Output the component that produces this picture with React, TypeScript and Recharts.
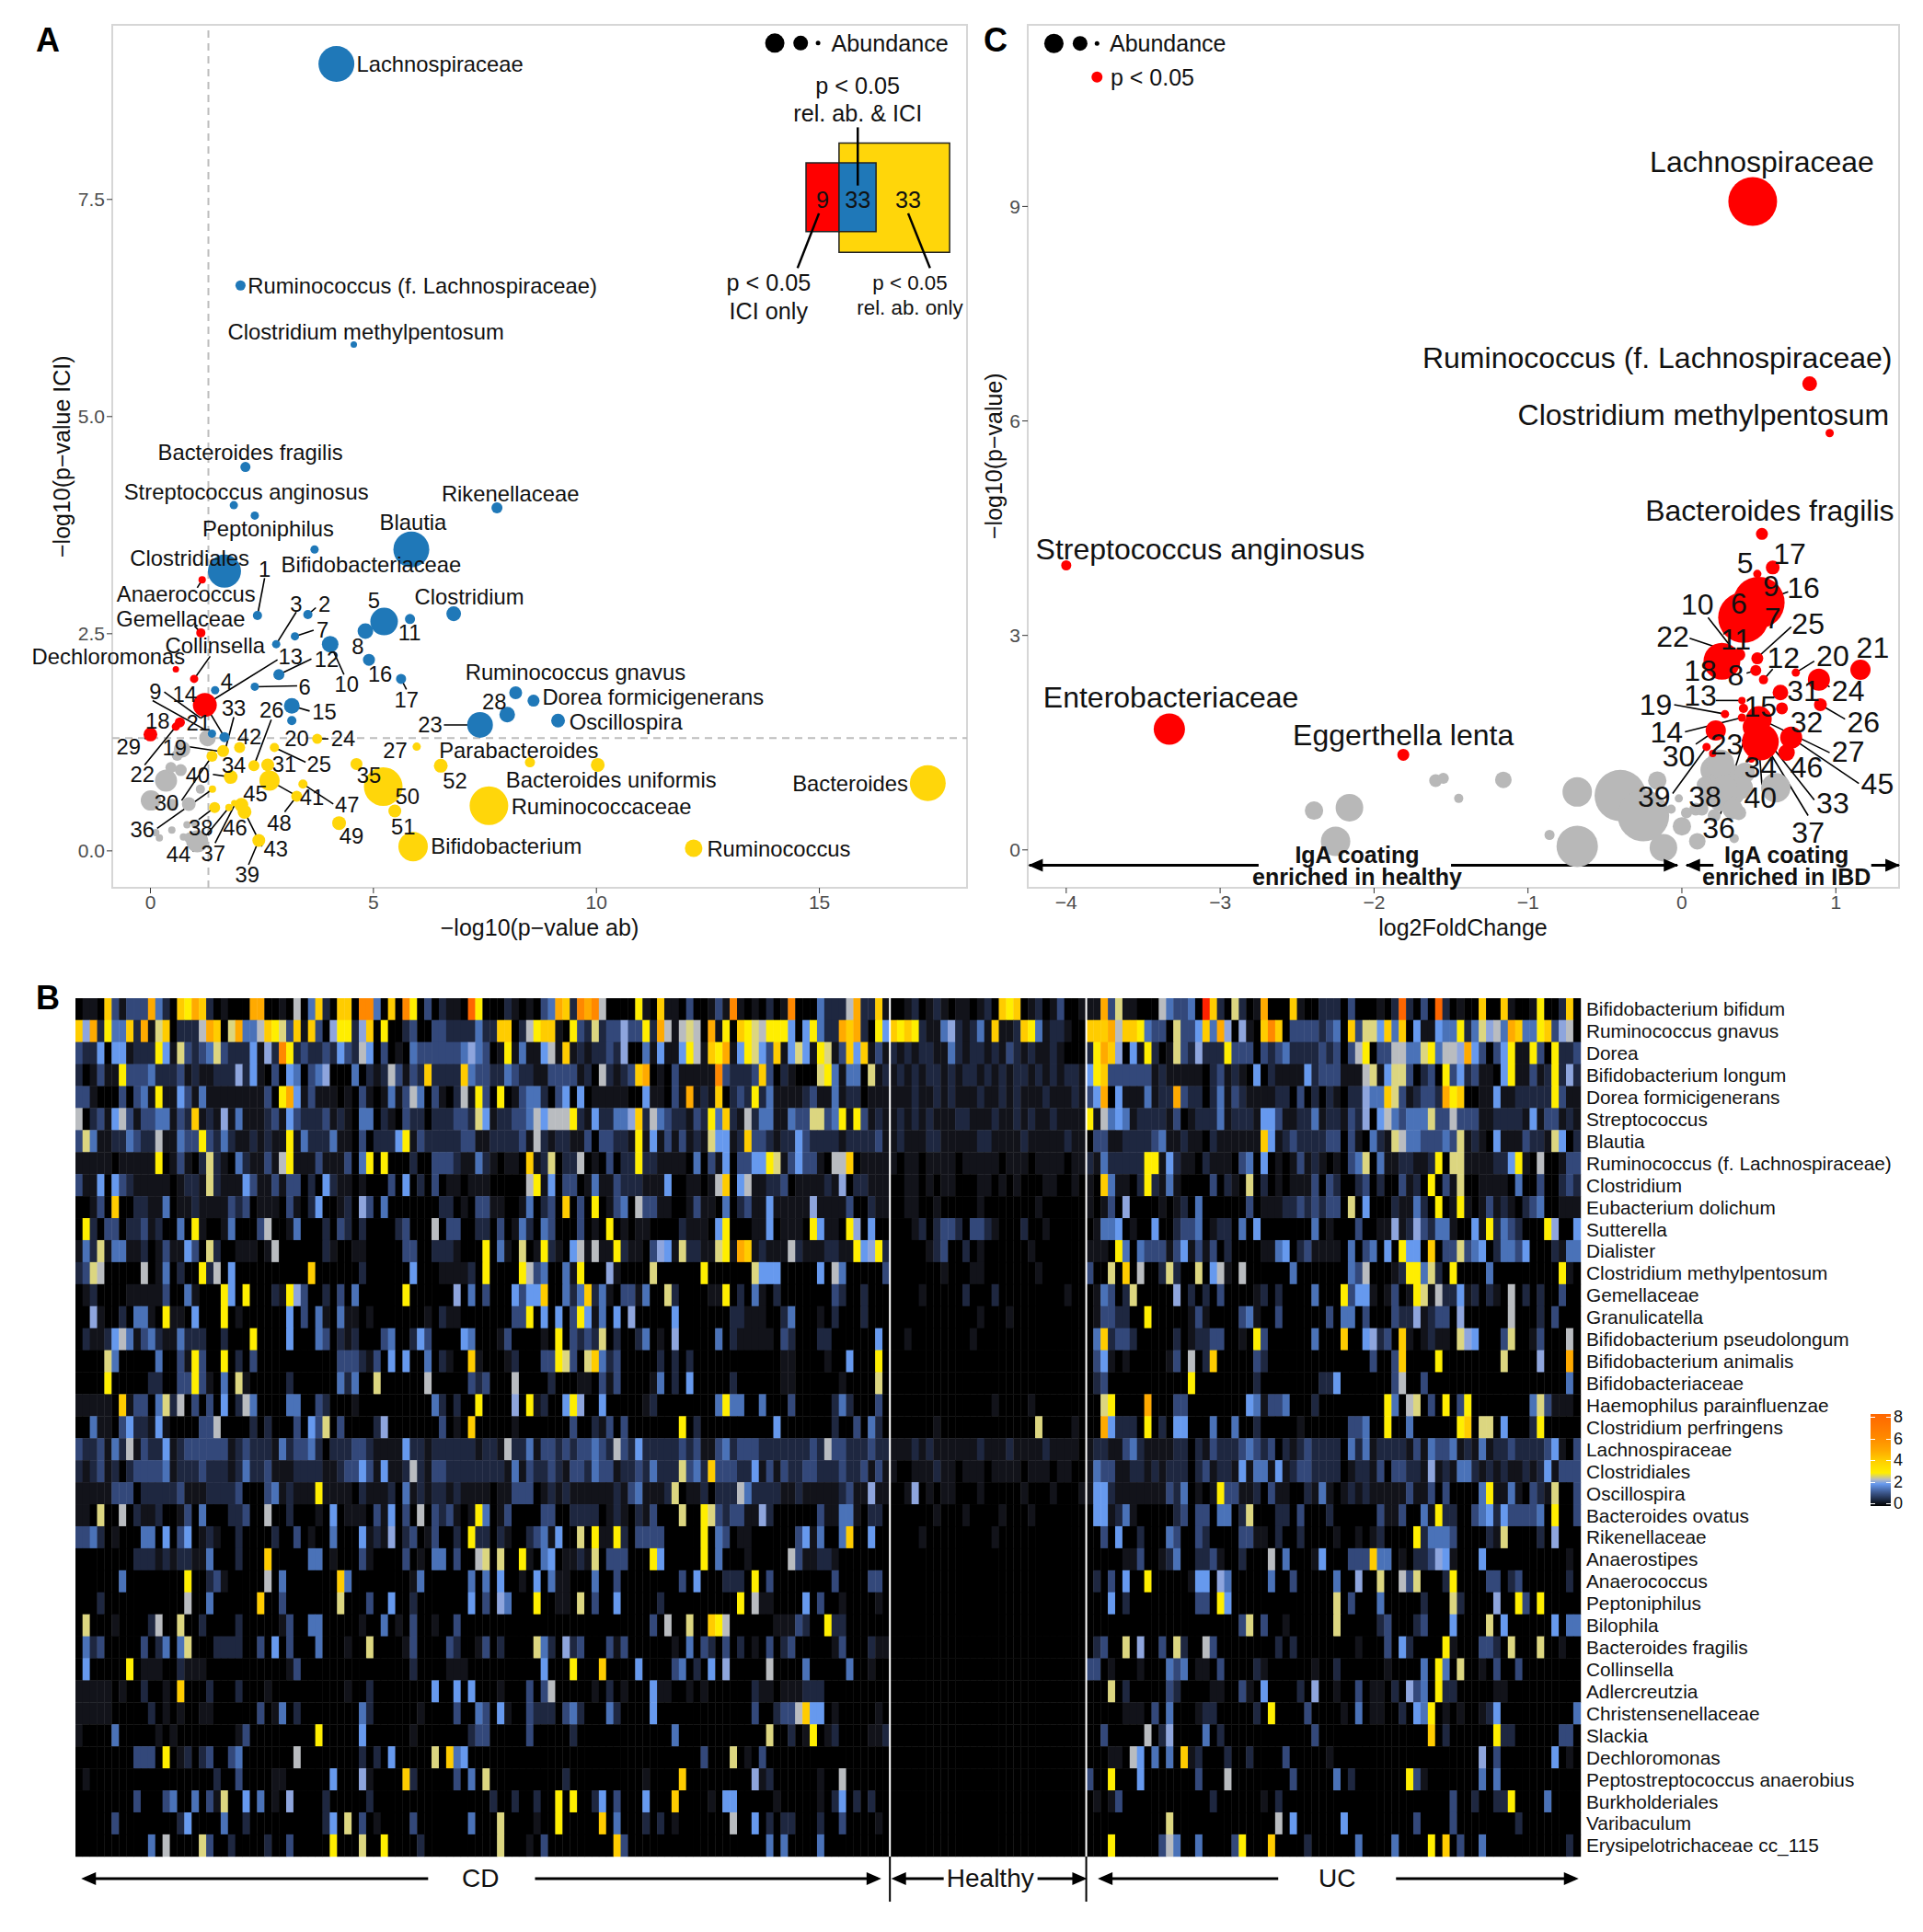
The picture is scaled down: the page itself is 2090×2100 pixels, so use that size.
import React from 'react';
import { ScatterChart, Scatter, XAxis, YAxis, ZAxis, ReferenceLine, ReferenceDot, ReferenceArea } from 'recharts';

type Pt = [number, number, number];
type Lbl = [string, number, number];
type Seg = [number, number, number, number];

const FONT = '"Liberation Sans", Arial, sans-serif';
const RED = '#ff0000';
const BLUE = '#1f78b8';
const YELLOW = '#ffd60a';
const GRAY = '#b8b8b8';

// panel A: [-log10 p ab, -log10 p ICI, abundance]
const blueA: Pt[] = [
  [4.17, 9.06, 39], [2.02, 6.51, 11], [4.56, 5.83, 7], [2.13, 4.42, 11], [1.87, 3.98, 9], [2.34, 3.86, 9],
  [3.68, 3.47, 9], [7.77, 3.95, 12], [5.85, 3.47, 39], [1.66, 3.22, 36], [2.4, 2.71, 10], [3.53, 2.72, 10],
  [2.82, 2.38, 9], [3.24, 2.47, 9], [5.24, 2.64, 30], [4.82, 2.53, 17], [5.82, 2.67, 11], [6.8, 2.73, 16],
  [4.03, 2.38, 18], [4.9, 2.2, 13], [2.88, 2.03, 12], [2.34, 1.89, 9], [1.45, 1.85, 9], [5.62, 1.98, 11],
  [3.17, 1.67, 17], [3.17, 1.5, 10], [7.39, 1.45, 28], [8.0, 1.57, 17], [8.19, 1.82, 14], [8.59, 1.73, 13],
  [9.14, 1.5, 15], [1.38, 1.35, 9], [1.66, 1.31, 11],
];
const redA: Pt[] = [
  [1.16, 3.12, 8], [0, 1.34, 15], [0.66, 1.48, 11], [0.57, 1.43, 9], [0.57, 2.09, 7], [0.98, 1.98, 9],
  [1.13, 2.51, 10], [1.22, 1.68, 26],
];
const yellowA: Pt[] = [
  [3.74, 1.29, 11], [5.97, 1.2, 9], [2.0, 1.19, 12], [2.78, 1.19, 10], [1.63, 1.15, 13], [1.38, 1.09, 12],
  [2.32, 0.98, 12], [2.63, 0.99, 14], [2.67, 0.81, 22], [1.8, 0.85, 15], [1.39, 0.71, 8], [3.42, 0.77, 10],
  [3.28, 0.63, 12], [4.62, 1.0, 13], [6.51, 0.98, 15], [5.22, 0.74, 42], [5.48, 0.46, 14], [4.23, 0.32, 15],
  [5.89, 0.05, 32], [7.59, 0.52, 42], [2.04, 0.53, 15], [2.11, 0.45, 15], [1.76, 0.5, 8], [1.88, 0.55, 7],
  [1.44, 0.5, 12], [2.43, 0.12, 14], [8.51, 1.02, 11], [10.03, 0.99, 15], [17.43, 0.78, 39], [12.18, 0.03, 19],
];
const grayA: Pt[] = [
  [1.28, 1.3, 18], [0.71, 1.17, 18], [0.6, 1.1, 12], [0.35, 0.81, 24], [0.68, 0.93, 13], [0.46, 0.96, 12],
  [0.01, 0.58, 22], [0.86, 0.54, 15], [0.49, 0.53, 13], [1.12, 0.71, 10], [0.48, 0.24, 8], [0.82, 0.3, 8],
  [0.2, 0.15, 8], [0.12, 0.21, 8], [0.74, 0.16, 8], [1.05, 0.11, 24], [0.88, 0.15, 12], [1.0, 0.3, 8],
];
const legendA: Pt[] = [[14.0, 9.3, 21], [14.58, 9.3, 16], [14.97, 9.3, 5]];

const labelsA: Lbl[] = [
  ['Lachnospiraceae', 6.49, 9.06], ['Ruminococcus (f. Lachnospiraceae)', 6.1, 6.51], ['Clostridium methylpentosum', 4.83, 5.98],
  ['Bacteroides fragilis', 2.24, 4.59], ['Streptococcus anginosus', 2.15, 4.14], ['Rikenellaceae', 8.07, 4.11],
  ['Peptoniphilus', 2.64, 3.71], ['Blautia', 5.89, 3.79], ['Clostridiales', 0.88, 3.37], ['Bifidobacteriaceae', 4.95, 3.3],
  ['Anaerococcus', 0.8, 2.96], ['Clostridium', 7.15, 2.93], ['Gemellaceae', 0.68, 2.67], ['Collinsella', 1.45, 2.37],
  ['Dechloromonas', -0.94, 2.24], ['Ruminococcus gnavus', 9.53, 2.06], ['Dorea formicigenerans', 11.27, 1.77],
  ['Oscillospira', 10.66, 1.49], ['Parabacteroides', 8.26, 1.16], ['Bacteroides uniformis', 10.33, 0.82],
  ['Ruminococcaceae', 10.11, 0.51], ['Bifidobacterium', 7.98, 0.06], ['Ruminococcus', 14.09, 0.03], ['Bacteroides', 15.69, 0.78],
  ['1', 2.56, 3.24], ['3', 3.27, 2.84], ['2', 3.9, 2.84], ['5', 5.01, 2.88], ['7', 3.86, 2.55], ['11', 5.81, 2.51],
  ['8', 4.65, 2.36], ['13', 3.14, 2.24], ['12', 3.95, 2.21], ['10', 4.4, 1.92], ['4', 1.71, 1.95], ['6', 3.46, 1.89],
  ['16', 5.15, 2.04], ['17', 5.74, 1.74], ['9', 0.11, 1.84], ['14', 0.77, 1.8], ['33', 1.87, 1.65], ['26', 2.72, 1.62],
  ['15', 3.9, 1.6], ['18', 0.16, 1.5], ['21', 1.08, 1.48], ['42', 2.22, 1.32], ['20', 3.28, 1.3], ['24', 4.32, 1.3],
  ['23', 6.27, 1.45], ['28', 7.71, 1.72], ['29', -0.49, 1.2], ['19', 0.54, 1.19], ['27', 5.49, 1.16], ['34', 1.87, 0.99],
  ['31', 3.0, 1.0], ['25', 3.78, 1.0], ['22', -0.18, 0.88], ['40', 1.06, 0.87], ['52', 6.83, 0.81], ['35', 4.9, 0.87],
  ['50', 5.76, 0.63], ['41', 3.62, 0.62], ['47', 4.41, 0.53], ['30', 0.36, 0.55], ['45', 2.35, 0.66], ['48', 2.89, 0.32],
  ['36', -0.18, 0.25], ['38', 1.13, 0.27], ['46', 1.9, 0.27], ['51', 5.67, 0.28], ['49', 4.51, 0.17], ['44', 0.63, -0.04],
  ['37', 1.41, -0.03], ['43', 2.81, 0.03], ['39', 2.17, -0.27],
];
const insetLabelsA: Lbl[] = [
  ['p < 0.05', 15.86, 8.81], ['rel. ab. & ICI', 15.86, 8.49], ['9', 15.07, 7.5], ['33', 15.86, 7.5], ['33', 16.99, 7.5],
  ['p < 0.05', 13.86, 6.54], ['ICI only', 13.86, 6.22], ['Abundance', 16.58, 9.3],
];
const smallLabelsA: Lbl[] = [['p < 0.05', 17.03, 6.54], ['rel. ab. only', 17.03, 6.25]];

const leadersA: Seg[] = [
  [2.56, 3.14, 2.4, 2.71], [3.71, 2.8, 3.53, 2.72], [3.27, 2.75, 2.82, 2.38], [3.66, 2.54, 3.24, 2.47], [4.34, 2.03, 4.03, 2.38],
  [3.61, 2.21, 2.88, 2.03], [2.85, 2.2, 1.22, 1.68], [3.29, 1.9, 2.34, 1.89], [3.57, 1.61, 3.17, 1.67], [5.74, 1.86, 5.62, 1.98],
  [0.05, 1.73, 1.38, 1.35], [0.31, 1.83, 1.12, 1.53], [1.1, 1.79, 1.66, 1.31], [1.87, 1.54, 1.66, 1.13], [-0.13, 0.99, 0.57, 1.43],
  [-0.13, 1.29, 0, 1.34], [0.84, 1.2, 1.63, 1.14], [3.99, 1.29, 3.74, 1.29], [2.71, 1.51, 2.32, 0.98], [3.48, 1.02, 2.78, 1.19],
  [6.58, 1.45, 7.39, 1.45], [1.4, 0.88, 1.8, 0.85], [0.7, 0.58, 1.38, 1.09], [0.15, 0.26, 1.39, 0.71], [3.29, 0.63, 2.67, 0.81],
  [4.1, 0.54, 3.42, 0.77], [3.01, 0.45, 3.28, 0.63], [5.44, 0.67, 5.22, 0.74], [0.95, -0.01, 1.76, 0.5], [1.45, 0.09, 1.91, 0.55],
  [1.08, 0.36, 1.44, 0.5], [2.5, 0.05, 2.03, 0.53], [2.2, -0.16, 2.43, 0.12], [1.05, 3.03, 1.16, 3.12], [0.99, 2.59, 1.13, 2.51],
  [1.34, 2.24, 0.98, 1.98],
];
const insetLeadersA: Seg[] = [[15.86, 8.33, 15.86, 7.66], [14.99, 7.34, 14.51, 6.71], [16.99, 7.34, 17.48, 6.71]];

// panel C: [log2FoldChange, -log10 p, abundance]
const redC: Pt[] = [
  [0.46, 9.07, 53], [0.83, 6.52, 16], [0.96, 5.83, 9], [-4.0, 3.98, 11], [-3.33, 1.69, 34], [-1.81, 1.33, 13],
  [0.52, 4.42, 13], [0.59, 3.95, 15], [0.49, 3.86, 9], [0.5, 3.46, 56], [0.4, 3.25, 55], [0.26, 2.64, 40],
  [0.37, 2.73, 14], [0.49, 2.68, 13], [0.48, 2.51, 12], [0.53, 2.38, 10], [0.74, 2.48, 9], [0.89, 2.38, 24],
  [1.16, 2.52, 22], [0.64, 2.2, 17], [0.65, 1.98, 13], [0.9, 2.03, 14], [0.39, 2.09, 8], [0.4, 1.98, 10],
  [0.39, 1.85, 9], [0.28, 1.9, 9], [0.22, 1.67, 22], [0.16, 1.44, 9], [0.2, 1.35, 8], [0.5, 1.83, 28],
  [0.47, 1.72, 25], [0.51, 1.51, 40], [0.71, 1.57, 24], [0.68, 1.36, 18], [0.45, 1.27, 8], [-3.8, 10.81, 12],
];
const grayC: Pt[] = [
  [-0.68, 0.81, 32], [-0.4, 0.76, 56], [-0.25, 0.48, 56], [-0.68, 0.05, 45], [-0.16, 0.97, 20], [-0.12, 0.03, 30],
  [-0.86, 0.21, 11], [-0.02, 0.72, 9], [0.0, 0.33, 20], [0.1, 0.12, 18], [0.34, 0.16, 10], [0.61, 0.87, 32],
  [0.21, 1.12, 30], [0.29, 1.0, 35], [0.33, 0.78, 25], [0.17, 0.74, 20], [0.25, 0.7, 25], [0.37, 0.52, 16],
  [0.03, 0.52, 12], [0.09, 0.57, 14], [0.21, 0.48, 14], [-0.07, 0.57, 10], [-2.39, 0.55, 20], [-2.16, 0.59, 30],
  [-2.25, 0.12, 32], [-1.6, 0.97, 14], [-1.55, 1.0, 12], [-1.45, 0.72, 10], [-1.16, 0.98, 18],
  [0.25, 1.21, 30], [0.41, 1.08, 22], [0.39, 0.87, 24], [0.33, 0.57, 22], [0.15, 0.91, 18], [0.13, 0.57, 14], [0.28, 0.88, 26],
];
const legendC: Pt[] = [[-4.08, 11.28, 21], [-3.91, 11.28, 16], [-3.8, 11.28, 5]];

const labelsC: Lbl[] = [
  ['Lachnospiraceae', 0.52, 9.62], ['Ruminococcus (f. Lachnospiraceae)', -0.16, 6.88], ['Clostridium methylpentosum', 0.14, 6.09],
  ['Bacteroides fragilis', 0.57, 4.75], ['Streptococcus anginosus', -3.13, 4.21], ['Enterobacteriaceae', -3.32, 2.14],
  ['Eggerthella lenta', -1.81, 1.6],
  ['17', 0.7, 4.14], ['5', 0.41, 4.01], ['9', 0.58, 3.69], ['16', 0.79, 3.67], ['6', 0.37, 3.45], ['10', 0.1, 3.43],
  ['7', 0.59, 3.24], ['25', 0.82, 3.16], ['22', -0.06, 2.98], ['11', 0.35, 2.94], ['21', 1.24, 2.83], ['20', 0.98, 2.71],
  ['12', 0.66, 2.69], ['18', 0.12, 2.51], ['8', 0.35, 2.44], ['31', 0.79, 2.23], ['24', 1.08, 2.23], ['13', 0.12, 2.16],
  ['19', -0.17, 2.03], ['15', 0.51, 2.0], ['26', 1.18, 1.79], ['32', 0.81, 1.78], ['14', -0.1, 1.64], ['23', 0.29, 1.48],
  ['27', 1.08, 1.37], ['30', -0.02, 1.31], ['46', 0.81, 1.16], ['34', 0.51, 1.16], ['45', 1.27, 0.92], ['39', -0.18, 0.75],
  ['38', 0.15, 0.75], ['40', 0.51, 0.73], ['33', 0.98, 0.66], ['36', 0.24, 0.3], ['37', 0.82, 0.24],
];
const legendLabelsC: Lbl[] = [['Abundance', -3.34, 11.28], ['p < 0.05', -3.44, 10.81]];
const boldLabelsC: Lbl[] = [
  ['IgA coating', -2.11, -0.07], ['enriched in healthy', -2.11, -0.38], ['IgA coating', 0.68, -0.07], ['enriched in IBD', 0.68, -0.38],
];
const leadersC: Seg[] = [
  [0.51, 3.61, 0.46, 3.48], [0.69, 3.61, 0.5, 3.46], [0.71, 3.12, 0.49, 2.69], [0.17, 3.25, 0.36, 2.73], [0.05, 2.96, 0.34, 2.75],
  [0.59, 2.53, 0.53, 2.38], [0.42, 2.47, 0.48, 2.51], [0.86, 2.64, 0.74, 2.48], [0.96, 2.28, 0.88, 2.38], [1.06, 1.83, 0.9, 2.03],
  [0.22, 2.09, 0.39, 2.09], [-0.05, 2.03, 0.28, 1.9], [0.02, 1.65, 0.39, 1.85], [0.09, 1.48, 0.22, 1.67], [0.96, 1.36, 0.52, 1.82],
  [1.15, 0.93, 0.71, 1.57], [0.86, 0.7, 0.48, 1.73], [0.82, 0.48, 0.53, 1.51], [0.52, 0.91, 0.5, 1.45], [0.25, 0.5, 0.4, 1.51],
  [0.39, 1.53, 0.46, 1.55], [0.18, 0.95, 0.21, 1.35], [-0.06, 0.79, 0.16, 1.44],
];
const arrowsC: Seg[] = [[-4.24, -0.215, -2.75, -0.215], [-1.5, -0.215, -0.03, -0.215], [0.03, -0.215, 0.205, -0.215], [1.23, -0.215, 1.41, -0.215]];
const arrowTipsC: [number, number, number][] = [[-4.2, -0.215, -1], [-0.07, -0.215, 1], [0.07, -0.215, -1], [1.37, -0.215, 1]];

// panel B
const taxa = [
  'Bifidobacterium bifidum', 'Ruminococcus gnavus', 'Dorea', 'Bifidobacterium longum', 'Dorea formicigenerans', 'Streptococcus', 'Blautia',
  'Ruminococcus (f. Lachnospiraceae)', 'Clostridium', 'Eubacterium dolichum', 'Sutterella', 'Dialister', 'Clostridium methylpentosum',
  'Gemellaceae', 'Granulicatella', 'Bifidobacterium pseudolongum', 'Bifidobacterium animalis', 'Bifidobacteriaceae', 'Haemophilus parainfluenzae',
  'Clostridium perfringens', 'Lachnospiraceae', 'Clostridiales', 'Oscillospira', 'Bacteroides ovatus', 'Rikenellaceae', 'Anaerostipes',
  'Anaerococcus', 'Peptoniphilus', 'Bilophila', 'Bacteroides fragilis', 'Collinsella', 'Adlercreutzia', 'Christensenellaceae', 'Slackia',
  'Dechloromonas', 'Peptostreptococcus anaerobius', 'Burkholderiales', 'Varibaculum', 'Erysipelotrichaceae cc_115',
];

// one character per sample, an index into levelValues
const levelValues = [0, 0.3, 0.7, 1.2, 1.6, 1.95, 2.2, 2.4, 2.7, 3.1, 4, 4.8, 5.8, 6.8, 8];
const levelColors = ['#000000', '#12131a', '#1e2740', '#33487a', '#4a72b8', '#6699ee', '#8ea5dd', '#b9bcc0', '#dcd680', '#ffee00', '#ffcc00', '#ffaa00', '#ff8800', '#ff6600', '#ff2200'];

const cdA = [
  '0110a31333 b420a9ba20 100 0bb0010 7 04a20aa0cc 40a0c90302 110d90 ',
  'a6b2944a2b 18a02227ba 08b447a983 a1a3069926 a090023003 3222242',
  '3225055122 2951832348 32225162c9 2322325327 5030104333 3334643',
  '2013119333 4222312112 2262510305 4034600040 21273132a2 222a433',
  '3310003034 1911531411 111111309b 5131110103 1014137403 1027193',
  '7023157313 344132a121 6141112315 3222312104 4021032202 2233285',
  '3841122432 2711433932 4211212119 1422241103 0222591322 2223311',
  '1111101111 1901310282 1042113179 1113111304 9090002003 3321142',
  '3115053211 1110122182 1115311313 3020521101 0003050203 0110111',
  '00130a0022 1140112111 1323011103 1025001206 3040000000 2201033',
  '0920330223 1200409100 1400037001 4000203202 0000230007 0330022',
  '1428144112 0131153082 0011101700 0000210011 0000033002 2210009',
  '2387000007 0140200927 0500000000 00a0000002 0000005000 1111209',
  '0120000111 1130041000 9509000219 6300203040 0000090000 0060403',
  '0061002044 1091105000 9010000005 0304104110 1000000010 2110000',
  '0211257413 4211422200 2000900005 0004302120 0034002530 0005400',
  '0000840000 0400319300 9020300000 0000003332 1305050040 2100a10',
  '0000900000 2200339310 4081000002 0000004240 0800000070 0000323',
  '111110a133 0482703030 5027400004 4003200010 0000000004 2020090',
  '0041103522 1510000337 0000202000 3053803000 0260000000 3010a00',
  '3223142713 2251233333 3123222142 3342022233 2111152212 2222212',
  '2123120233 3341222322 2124223111 2222112335 3151127213 3222222',
  '1111133302 2222311122 2230003412 1119111102 1112041212 2121111',
  '1108007021 1200130400 0223007002 0001050111 0315030703 2310194',
  '3342010004 4050350121 0020000200 3010040005 1216023013 0020922',
  '0000000022 2121221140 002000a000 0044010003 1000030104 4030078',
  '0000004000 0000090023 1000007040 000000a400 0000001400 0000404',
  '0002000000 0000070040 00000a0030 0000008000 3005002000 0000503',
  '0800010000 2700800200 0020000013 0044000001 0040103001 0030000',
  '0423000003 0240480002 2220030503 0004000100 8000013000 0320013',
  '0500000901 1100211100 0000000001 3000000000 0000002000 0111000',
  '1111101002 0010a00020 0020001000 0000000100 2000000005 0050500',
  '1111100000 2010100110 0000030140 2000000004 2000000100 0030043',
  '1000040000 0101000000 0013000000 0009000005 0000001000 0000233',
  '0000000033 3090120230 0340000000 7000000002 0205000008 0a45000',
  '0100000000 0000000002 0030000110 0000050006 10000a2000 0030408',
  '0000000030 0034004031 8005040106 0000200000 2000000000 0000000',
  '0000030000 0000250000 4002000000 0000250803 0100003000 0000400',
  '0000000000 4070000830 0200002003 0000090008 0090000200 0000000',
];
const cdB = [
  '002101034b a2cbc70000 910a110300 131c101020 1c00042227 b22a1',
  '2aa0279aa1 0932823363 392b717870 b190a98799 95059422ba b2095',
  '0191411571 a121223260 0415115971 a9b159853a 158519813a 5a131',
  '2243221133 3312072123 ab01031111 1c32223a30 2100089414 40812',
  '0901344203 5050111110 0511031b12 1a02329241 1112311412 20111',
  '1223347577 7921522446 a274322132 94a2172441 1433883491 93121',
  '2222317212 2113033221 9151313121 85512a3321 2253222212 22231',
  '10110a1280 2270103022 9221111040 3150335598 135331077a 01111',
  '0000079150 3301411322 2111500110 17a0571122 3011112160 22111',
  '1100140230 a030901340 7331100131 1040231151 1111611113 00211',
  '0301420430 0030109010 1100002111 0590001150 1110951109 60500',
  '0410801921 0571711921 1036518221 1891ba1211 1721112211 95692',
  '0000973400 4190006100 0080000009 0000008555 0000050740 00003',
  '0005355a00 424a241033 1400820000 1190204102 0000000320 02000',
  '0003390505 0395140506 0000050000 0002211100 2400010200 02000',
  '0130000109 0323280200 2401060000 0402111110 3200022000 00050',
  '0012000339 8308a42300 0002020200 0000000000 1100001005 00090',
  '0007000020 0011031300 0014020500 0002000000 1100000010 00080',
  '0006091200 5960050000 0120000000 0494400400 0300000242 00030',
  '0001000000 0300213030 0000009020 0000000005 0000000200 30420',
  '2172241332 3233432732 5222223231 1342333222 2222327332 22322',
  '2214132232 1332433122 3242228342 a333225131 3223322232 23131',
  '0113330121 2111111213 4111280112 0222742222 1121111123 11611',
  '0130000330 0222201210 2130008009 8323311620 0000031144 10220',
  '0210023415 0080911920 3333000009 0430110000 003514004a 00500',
  '0800910450 1121803330 0095000009 0400010000 0731122100 00000',
  '0500105041 1000400300 0000003050 0022209030 0000000300 00330',
  '0640009001 1080300500 0002000000 0000907110 0005030010 00010',
  '0000000000 0000000000 0030700800 a970000001 1132009220 00000',
  '0200008420 6230003130 0000010403 2030201030 2300000130 00211',
  '0000000500 09000a0000 5000034020 5060000070 0004000004 00100',
  '0100030370 0000102010 0051100101 0000002110 1112220000 00000',
  '0510032220 3420004200 0050000000 0000003002 337a550100 00010',
  '0000030000 0200000000 0000040000 0000000080 0201901200 00112',
  '0000000000 0000000000 0000000003 0008010300 0000000000 00000',
  '0000000000 2000000000 010000a000 0000006120 0000010070 00000',
  '2002002009 0900250300 05000a0000 1055000001 0000010250 20200',
  '0800001009 00000a0400 0202010000 0007005020 2200020030 00010',
  '0800010300 0000000a30 0000000000 0000000040 4000040000 00000',
];
const healthy = [
  '001201210110120a9a012013001', 'a9a92114621241a112a941221', '212122114212212132121121', '121212212122121212212121221',
  '111211212111211212111211121', '121212111221112112121121111', '121112211111221111211111211', '101101111011111011101111011',
  '001101011000110101000110010', '001100100000100000001000000', '000120233203321000200100000', '000001230020100000010000000',
  '000000010001100000001000000', '000010000020002000000000100', '000000000000100010000000000', '001000000001000000000000000',
  '000000000000000000000000000', '000000000000000000000000000', '000000000000001000010000000', '000000100000000000008000010',
  '111212111111211121111211110', '100111211011101111011101100', '001601011000100000100010001', '000000100010000100010000000',
  '000010000000001000000000000', '', '', '', '', '', '', '', '', '', '', '', '', '', '',
];
const uc = [
  '11b3811000 743340ea20 8201b000a1 0022203000 102d2030d2 0100a00a10 019002a0',
  'aaab7aa943 308335a4b6 0610aca033 332340a388 5a4a051154 49248674ba 449a3670',
  '29ba605192 0183262229 3330323422 2232303790 3377448947 76b5303591 19309223',
  '59a3333331 2111110231 2105021111 5233311178 1588302309 3523110591 13129262',
  '35b0511141 22b3220241 3211112203 0202102264 4a8312332b 9a00115112 22229311',
  '9174541222 2130122241 2221553112 2412213260 5743444833 7333112222 15133121',
  '0331122223 4112110211 1111a51232 2223303104 2187443334 3812105111 32218502',
  '2142222299 1521102111 0340501013 1210103480 4112211290 8811112259 10700133',
  '10a4110292 1410000302 1080201011 1303200230 2003120903 1800111104 00300232',
  '1013060000 1012040000 0030111223 2323308050 0021142090 1910131210 23400111',
  '0144501005 0023340122 0405000000 0401000300 1161263244 1005192432 00096005',
  '1110940433 3135131302 0000114502 3111104034 0509550a03 3834502443 50002144',
  '30080a0700 2820080571 0700000040 0000004370 0012994820 9000040000 00000910',
  '0143028000 0060202030 0001202000 0400093551 0130198172 2512021070 20200300',
  '0133220090 0000131000 0341003000 0003044030 0032261233 0600000070 00203000',
  '04a2332000 0020122330 0109300000 04000a0056 230a101211 0865000380 01300070',
  '0351010000 0130702a00 0003200000 0000000003 003a000090 0000000800 006000b0',
  '0230000000 0000900000 0002000000 0022500000 0037003000 0000000000 00000040',
  '00890000b0 0033000000 0054133400 0200000000 0940780309 0390000000 04831110',
  '00b5222090 2055000400 4002000001 0000003340 0900400000 09a0880500 02900000',
  '1221134211 1122021322 2343230212 3222204241 2222131433 4121412232 22235103',
  '1433112212 1222023122 1514415123 3222201221 3033221612 1442121211 21251333',
  '1552111111 1324010193 3112031100 2141012121 1111311303 0000491141 03218003',
  '0551241000 0023033044 0280002203 0002000000 3113004192 2003452533 33409003',
  '0030500200 0430032000 0331102002 0000100101 2000092444 3000021800 00206000',
  '0000011300 1240022310 0200070400 015000333a 4401022365 1000500000 00000010',
  '0203050090 0000155064 0000040030 0000400600 8007380002 9000033023 00000020',
  '0005020000 0000033095 0000000000 0000803000 4000002000 8200006009 30900000',
  '0000000000 0000000000 0380300100 0000800000 2300023000 5000080500 00005044',
  '0230080600 3082007300 0000002020 0000000100 0305200009 1000332080 00800100',
  '3301000100 0434011030 0002100000 0100200000 0100004094 0800103003 00000000',
  '0008020000 0320000110 0310500002 0600100301 1020634092 2000001100 00000000',
  '0000011103 0400012200 0002090000 3000010401 1002054901 0100125000 00000004',
  '0030000070 2600004020 0000000000 0300000000 0000000a02 0000009220 00000330',
  '0001107504 040a120002 0020000300 0001000000 0000000000 0000603000 00005010',
  '3009000500 0000030007 0000000030 0000402000 0000931000 0000404000 00000000',
  '0101300000 0000000200 0000102000 0000000000 0000000000 3002002290 00040000',
  '0000000000 0800000000 0000007050 0000050000 0000030000 3000000002 00000000',
  '0009000000 3740040000 39000a0000 2000000400 004000090a 0300400000 00000020',
];
const CD_A_COLS = 57;
const CD_COLS = 112;
const HEALTHY_COLS = 27;
const UC_COLS = 68;
const TOTAL_COLS = CD_COLS + HEALTHY_COLS + UC_COLS;

const groupText: Lbl[] = [['CD', 55.7, 40], ['Healthy', 125.8, 40], ['UC', 173.5, 40]];
const groupArrows: Seg[] = [
  [1.27, 40, 48.5, 40], [63.2, 40, 110.3, 40], [112.7, 40, 119.4, 40], [132.3, 40, 138.6, 40], [141.1, 40, 165.4, 40], [181.6, 40, 206.2, 40],
];
const groupTips: [number, number, number][] = [
  [1.8, 40, -1], [109.8, 40, 1], [113.2, 40, -1], [138.1, 40, 1], [141.6, 40, -1], [205.7, 40, 1],
];
const separators = [CD_COLS, CD_COLS + HEALTHY_COLS];

const fit = (s: string, n: number) => s.replace(/ /g, '').padEnd(n, '0').slice(0, n);
const heatCells = taxa.flatMap((_, row) => {
  const codes = fit(cdA[row], CD_A_COLS) + fit(cdB[row], CD_COLS - CD_A_COLS) + fit(healthy[row], HEALTHY_COLS) + fit(uc[row], UC_COLS);
  return codes.split('').map((c, col) => ({ x: col + 0.5, y: row + 0.5, level: parseInt(c, 16) || 0, value: levelValues[parseInt(c, 16) || 0] }));
});

const points = (rows: Pt[]) => rows.map(([x, y, a]) => ({ x, y, z: a * a }));
const textShape = (t: string, size: number, weight = 400) => (p: any) => (
  <text x={p.cx} y={p.cy} fontSize={size} fontWeight={weight} fill="#111" textAnchor="middle" dominantBaseline="central" style={{ fontFamily: FONT }}>
    {t}
  </text>
);
const tipShape = (dir: number, len: number, half: number) => (p: any) => (
  <polygon points={`${p.cx + (dir * len) / 2},${p.cy} ${p.cx - (dir * len) / 2},${p.cy - half} ${p.cx - (dir * len) / 2},${p.cy + half}`} fill="#000" />
);
const minus = (v: number) => String(v).replace('-', '\u2212');
const tickStyle = { fontSize: 21, fill: '#4d4d4d' };
const titleStyle = { fontSize: 25, fill: '#111' };
const seg = (s: Seg, i: number, width = 1.6) => (
  <ReferenceLine key={i} segment={[{ x: s[0], y: s[1] }, { x: s[2], y: s[3] }]} stroke="#000" strokeWidth={width} ifOverflow="visible" />
);
const lbl = (l: Lbl, i: number, size: number, weight = 400) => (
  <ReferenceDot key={i} x={l[1]} y={l[2]} ifOverflow="visible" shape={textShape(l[0], size, weight)} />
);
const sizeAxis = <ZAxis dataKey="z" type="number" domain={[0, 4000]} range={[0, 3142]} />;

const PanelA = () => (
  <ScatterChart width={1060} height={1030} margin={{ top: 27, right: 9, bottom: 0, left: 0 }}>
    <XAxis type="number" dataKey="x" domain={[-0.856, 18.31]} ticks={[0, 5, 10, 15]} height={65} axisLine={false} tick={tickStyle} tickLine={{ stroke: '#333' }}
      label={{ value: '\u2212log10(p\u2212value ab)', position: 'insideBottom', offset: 13, ...titleStyle }} />
    <YAxis type="number" dataKey="y" domain={[-0.425, 9.51]} ticks={[0, 2.5, 5, 7.5]} width={122} axisLine={false} tick={tickStyle} tickLine={{ stroke: '#333' }} tickFormatter={(v: number) => v.toFixed(1)}
      label={{ value: '\u2212log10(p\u2212value ICI)', angle: -90, position: 'insideLeft', offset: 67, dy: 110, ...titleStyle }} />
    {sizeAxis}
    <ReferenceLine x={1.3} stroke="#bdbdbd" strokeWidth={2} strokeDasharray="8 6" />
    <ReferenceLine y={1.3} stroke="#bdbdbd" strokeWidth={2} strokeDasharray="8 6" />
    <ReferenceArea x1={15.44} x2={17.92} y1={6.89} y2={8.15} fill={YELLOW} fillOpacity={1} stroke="#222" strokeWidth={1.5} />
    <ReferenceArea x1={14.7} x2={15.44} y1={7.13} y2={7.92} fill={RED} fillOpacity={1} stroke="#222" strokeWidth={1.5} />
    <ReferenceArea x1={15.44} x2={16.27} y1={7.13} y2={7.92} fill={BLUE} fillOpacity={1} stroke="#222" strokeWidth={1.5} />
    <Scatter data={points(grayA)} fill={GRAY} isAnimationActive={false} />
    <Scatter data={points(yellowA)} fill={YELLOW} isAnimationActive={false} />
    <Scatter data={points(blueA)} fill={BLUE} isAnimationActive={false} />
    <Scatter data={points(redA)} fill={RED} isAnimationActive={false} />
    <Scatter data={points(legendA)} fill="#000" isAnimationActive={false} />
    {leadersA.map((s, i) => seg(s, i))}
    {insetLeadersA.map((s, i) => seg(s, i + 100, 2.5))}
    {labelsA.map((l, i) => lbl(l, i, 23.8))}
    {insetLabelsA.map((l, i) => lbl(l, i + 150, 25.2))}
    {smallLabelsA.map((l, i) => lbl(l, i + 200, 22.3))}
  </ScatterChart>
);

const PanelC = () => (
  <ScatterChart width={1050} height={1030} margin={{ top: 27, right: 27, bottom: 0, left: 0 }}>
    <XAxis type="number" dataKey="x" domain={[-4.25, 1.405]} ticks={[-4, -3, -2, -1, 0, 1]} height={65} axisLine={false} tick={tickStyle} tickLine={{ stroke: '#333' }} tickFormatter={minus}
      label={{ value: 'log2FoldChange', position: 'insideBottom', offset: 13, ...titleStyle }} />
    <YAxis type="number" dataKey="y" domain={[-0.53, 11.54]} ticks={[0, 3, 6, 9]} width={77} axisLine={false} tick={tickStyle} tickLine={{ stroke: '#333' }}
      label={{ value: '\u2212log10(p\u2212value)', angle: -90, position: 'insideLeft', offset: 40, dy: 90, ...titleStyle }} />
    {sizeAxis}
    <Scatter data={points(grayC)} fill={GRAY} isAnimationActive={false} />
    <Scatter data={points(redC)} fill={RED} isAnimationActive={false} />
    <Scatter data={points(legendC)} fill="#000" isAnimationActive={false} />
    {leadersC.map((s, i) => seg(s, i))}
    {arrowsC.map((s, i) => seg(s, i + 100, 3))}
    {arrowTipsC.map((t, i) => (
      <ReferenceDot key={i + 300} x={t[0]} y={t[1]} ifOverflow="visible" shape={tipShape(t[2], 16, 7)} />
    ))}
    {labelsC.map((l, i) => lbl(l, i, 32))}
    {legendLabelsC.map((l, i) => lbl(l, i + 200, 25))}
    {boldLabelsC.map((l, i) => lbl(l, i + 250, 25, 700))}
  </ScatterChart>
);

const CELL_W = 1636 / TOTAL_COLS + 0.4;
const CELL_H = 933 / taxa.length + 0.4;
const heatCell = (p: any) => (
  <rect x={p.cx - CELL_W / 2} y={p.cy - CELL_H / 2} width={CELL_W} height={CELL_H} fill={levelColors[p.payload.level]} />
);
const separatorBar = (p: any) => (
  <rect x={p.cx - 1} y={p.cy - 933 / 2} width={2} height={933} fill="#fff" />
);

const Heatmap = () => (
  <ScatterChart width={1976} height={985} margin={{ top: 0, right: 0, bottom: 52, left: 0 }}>
    <XAxis type="number" dataKey="x" domain={[0, TOTAL_COLS]} hide />
    <YAxis
      type="number" dataKey="y" orientation="right" reversed domain={[0, taxa.length]} width={340} interval={0}
      ticks={taxa.map((_, i) => i + 0.5)} tickFormatter={(v: number) => taxa[Math.floor(v)]}
      axisLine={false} tickLine={false} tickMargin={0} tick={{ fontSize: 20.8, fill: '#111' }}
    />
    <Scatter data={heatCells} shape={heatCell} isAnimationActive={false} />
    <Scatter data={separators.map((x) => ({ x, y: taxa.length / 2 }))} shape={separatorBar} isAnimationActive={false} />
    {separators.map((x, i) => (
      <ReferenceLine key={i + 500} segment={[{ x, y: taxa.length }, { x, y: 41.05 }]} stroke="#000" strokeWidth={2} ifOverflow="visible" />
    ))}
    {groupArrows.map((s, i) => seg(s, i, 3))}
    {groupTips.map((t, i) => (
      <ReferenceDot key={i + 100} x={t[0]} y={t[1]} ifOverflow="visible" shape={tipShape(t[2], 16, 7)} />
    ))}
    {groupText.map((l, i) => lbl(l, i + 200, 28))}
  </ScatterChart>
);

const box = (left: number, top: number, width: number, height: number): React.CSSProperties => ({
  position: 'absolute', left, top, width, height, boxSizing: 'border-box', border: '2px solid #d6d6d6', pointerEvents: 'none',
});
const letter = (t: string, left: number, top: number) => (
  <div style={{ position: 'absolute', left, top, fontSize: 36, fontWeight: 700, lineHeight: '36px', color: '#000' }}>{t}</div>
);
const scaleTicks = [8, 6, 4, 2, 0];

export default function App() {
  return (
    <div style={{ position: 'absolute', left: 0, top: 0, width: 2090, height: 2100, background: '#fff', fontFamily: FONT, overflow: 'hidden' }}>
      <div style={box(121, 26, 931, 940)} />
      <div style={box(1116, 26, 949, 940)} />
      <div style={{ position: 'absolute', left: 0, top: 0 }}><PanelA /></div>
      <div style={{ position: 'absolute', left: 1040, top: 0 }}><PanelC /></div>
      <div style={{ position: 'absolute', left: 82, top: 1085 }}><Heatmap /></div>
      {letter('A', 39, 26)}
      {letter('B', 39, 1067)}
      {letter('C', 1069, 26)}
      <div style={{
        position: 'absolute', left: 2033, top: 1537, width: 22, height: 100,
        background: 'linear-gradient(to top, #000 0%, #3a5488 14%, #6699ee 24%, #b9bcc0 29%, #ffee00 36%, #ffcc00 50%, #ffaa00 60%, #ff8800 75%, #ff6600 100%)',
      }} />
      {scaleTicks.map((t) => (
        <React.Fragment key={t}>
          <div style={{ position: 'absolute', left: 2033, top: 1634 - t * 11.75, width: 5, height: 1, background: '#fff' }} />
          <div style={{ position: 'absolute', left: 2050, top: 1634 - t * 11.75, width: 5, height: 1, background: '#fff' }} />
          <div style={{ position: 'absolute', left: 2058, top: 1623 - t * 11.75, fontSize: 18, lineHeight: '22px', color: '#111' }}>{t}</div>
        </React.Fragment>
      ))}
    </div>
  );
}
